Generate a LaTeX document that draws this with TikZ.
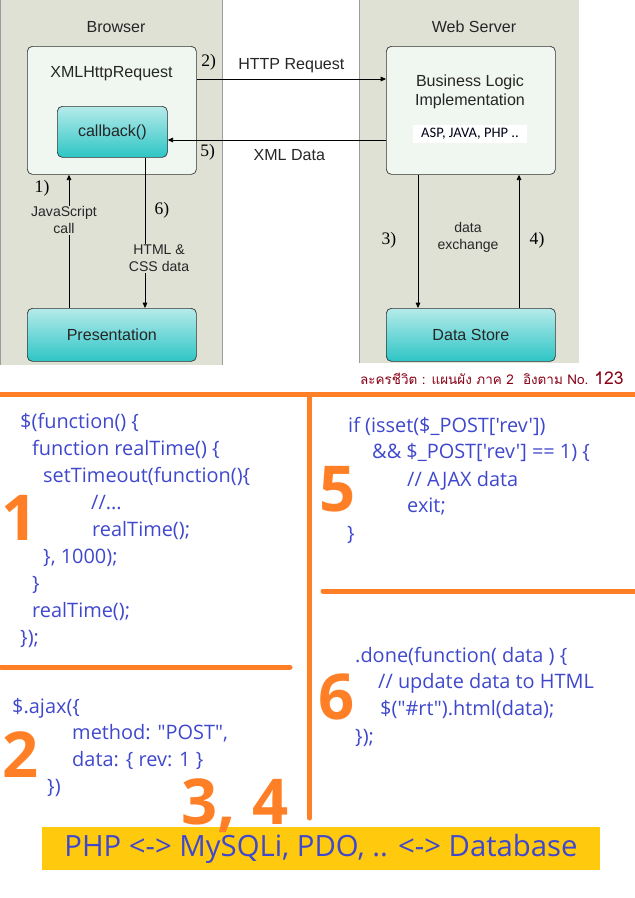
\documentclass[tikz,border=0pt]{standalone}
\usepackage{fontspec}
\setmainfont{Liberation Sans}
\newfontfamily\codefont{Open Sans}[Ligatures=TeXOff]
\newfontfamily\stepfont{Liberation Serif}
\newfontfamily\listfont{Carlito}
\newfontfamily\thaifont{Loma}[Script=Thai]
\usetikzlibrary{arrows.meta,positioning}
\definecolor{panelgray}{HTML}{E0E1D5}
\definecolor{panelline}{HTML}{9C9C9C}
\definecolor{boxfill}{HTML}{F0F6F0}
\definecolor{tealtop}{HTML}{B5EBEA}
\definecolor{tealbot}{HTML}{2EC5C5}
\definecolor{paintorange}{HTML}{FF7F27}
\definecolor{paintblue}{HTML}{3F48CC}
\definecolor{paintgold}{HTML}{FFC90E}
\definecolor{paintred}{HTML}{880015}
\tikzset{>={Triangle[width=1.4mm,length=1.6mm]}}
\tikzset{outerbox/.style={draw=black!80, fill=boxfill, rounded corners=1.5mm,
    inner sep=0, semithick, anchor=north west}}
\tikzset{tealbox/.style={draw=black!80, top color=tealtop, bottom color=tealbot,
    rounded corners=1.5mm, inner sep=0, semithick, anchor=north west,
    text=black!85, font=\fontsize{13.7}{16.5}\selectfont}}
\tikzset{heading/.style={inner sep=0, align=center, text=black!85,
    font=\fontsize{13.7}{16.5}\selectfont}}
\tikzset{flowtext/.style={inner sep=1pt, align=center, text=black!85,
    font=\fontsize{12}{14.5}\selectfont}}
\tikzset{stepnum/.style={inner sep=0, font=\stepfont\fontsize{15}{17}\selectfont}}
\tikzset{codeline/.style={anchor=base west, inner sep=0, text=paintblue,
    font=\codefont\fontsize{17}{20}\selectfont}}
\tikzset{bignum/.style={anchor=base, inner sep=0, text=paintorange,
    font=\codefont\bfseries\fontsize{54}{60}\selectfont}}
\tikzset{divider/.style={draw=paintorange, line width=1.5mm, line cap=round}}

\begin{document}
\begin{tikzpicture}[x=0.3mm, y=-0.3mm]
  \useasboundingbox (0,0) rectangle (634,898);

  % the two columns
  \fill[panelgray] (0,0) rectangle (222,365);
  \fill[panelgray] (359,0) rectangle (579,363);
  \draw[panelline, thick] (0.5,0) -- (0.5,365);
  \draw[panelline, thick] (222,0) -- (222,365);
  \draw[panelline, thick] (359,0) -- (359,363);

  \node[heading] (browser) at (116,27) {Browser};
  \node[heading] (server) at (474,27) {Web Server};

  \node[outerbox, minimum width=50.7mm, minimum height=38.4mm] (xhr) at (27,46) {};
  \node[heading] (xhrname) at (111.5,74) {XMLHttpRequest};
  \node[tealbox, minimum width=33mm, minimum height=15.3mm] (callback) at (57,106) {callback()};
  \node[tealbox, minimum width=50.7mm, minimum height=15.9mm] (pres) at (27,308) {Presentation};

  \node[outerbox, minimum width=50.7mm, minimum height=38.4mm] (logic) at (386,46) {};
  \node[heading] (logicname) at (470,92) {Business Logic\\Implementation};
  \node[fill=white, inner sep=0, minimum width=34.2mm, minimum height=5.4mm,
    text=black!90!blue, font=\listfont\fontsize{12.4}{14}\selectfont] (asp) at (470,134) {ASP, JAVA, PHP ..};
  \node[tealbox, minimum width=50.7mm, minimum height=15.9mm] (store) at (386,308) {Data Store};

  \coordinate (req) at (0,79);
  \coordinate (resp) at (0,140);
  \coordinate (jsx) at (69,0);
  \coordinate (htmlx) at (145,0);
  \coordinate (downx) at (418,0);
  \coordinate (upx) at (519,0);

  \path (xhr.east |- req) edge[->, semithick]
      node[heading, pos=.5, yshift=11pt] (reqlbl) {HTTP Request}
      node[stepnum, pos=.063, yshift=14.5pt] (step2) {2)} (logic.west |- req);
  \path (logic.west |- resp) edge[->, semithick]
      node[heading, pos=.443, yshift=-12.8pt] (resplbl) {XML Data}
      node[stepnum, pos=.817, yshift=-10.2pt] (step5) {5)} (callback.east |- resp);
  \path (pres.north -| jsx) edge[->, semithick]
      node[flowtext, fill=panelgray, pos=.657, xshift=-4.3pt] (jslbl) {JavaScript\\call}
      node[stepnum, pos=.896, xshift=-23pt] (step1) {1)} (xhr.south -| jsx);
  \path (callback.south -| htmlx) edge[->, semithick]
      node[flowtext, fill=panelgray, pos=.669, xshift=12pt] (htmllbl) {HTML \&\\CSS data}
      node[stepnum, pos=.351, xshift=14.5pt] (step6) {6)} (pres.north -| htmlx);
  \path (logic.south -| downx) edge[->, semithick]
      node[stepnum, pos=.49, xshift=-24.8pt] (step3) {3)} (store.north -| downx);
  \path (store.north -| upx) edge[->, semithick]
      node[stepnum, pos=.507, xshift=15.4pt] (step4) {4)} (logic.south -| upx);
  \node[flowtext] (exchange) at (468,237) {data\\exchange};

  \node[anchor=east, inner sep=0, text=paintred,
    font=\thaifont\fontsize{11.5}{13}\selectfont] (caption) at (624,378)
    {ละครชีวิต : แผนผัง ภาค 2\ \ อิงตาม No. {\fontsize{15}{17}\selectfont 123}};

  % orange frame lines
  \draw[divider] (0,394.5) -- (640,394.5);
  \draw[divider] (309.5,396) -- (309.5,818);
  \draw[divider] (1,667) -- (290,667);
  \draw[divider] (323,591) -- (640,591);

  % code snippets
  \foreach \cx/\cy/\ct [count=\i] in {20/428/{\$(function() \{},
      32/455/{function realTime() \{}, 43/482/{setTimeout(function()\{},
      91/509/{//...}, 92/536/{realTime();}, 43/563/{\}, 1000);},
      32/590/{\}}, 32/617/{realTime();}, 20/644/{\});}}
    \node[codeline] (timer\i) at (\cx,\cy) {\ct};
  \foreach \cx/\cy/\ct [count=\i] in {12/713/{\$.ajax(\{},
      72/739/{method: "POST",}, 72/766/{data: \{ rev: 1 \}}, 47/793/{\})}}
    \node[codeline] (ajax\i) at (\cx,\cy) {\ct};
  \foreach \cx/\cy/\ct [count=\i] in {348/432/{if (isset(\$\_POST['rev'])},
      372/458/{\&\& \$\_POST['rev'] == 1) \{}, 407/486/{// AJAX data},
      407/512/{exit;}, 347/540/{\}}}
    \node[codeline] (check\i) at (\cx,\cy) {\ct};
  \foreach \cx/\cy/\ct [count=\i] in {355/662/{.done(function( data ) \{},
      378/688/{// update data to HTML}, 380/715/{\$("\#rt").html(data);},
      355/743/{\});}}
    \node[codeline] (done\i) at (\cx,\cy) {\ct};

  \node[bignum] (num1) at (20,540) {1};
  \node[bignum] (num2) at (21,777) {2};
  \node[bignum] (num5) at (338,511) {5};
  \node[bignum] (num6) at (337,719) {6};

  \node[fill=paintgold, inner sep=0, minimum width=167.4mm, minimum height=12.9mm,
    text=paintblue, font=\codefont\fontsize{25}{30}\selectfont] (dbbar) at (321,848.5)
    {PHP <-> MySQLi, PDO, .. <-> Database};
  \node[bignum] (num34) at (235,824) {3, 4};
\end{tikzpicture}
\end{document}
